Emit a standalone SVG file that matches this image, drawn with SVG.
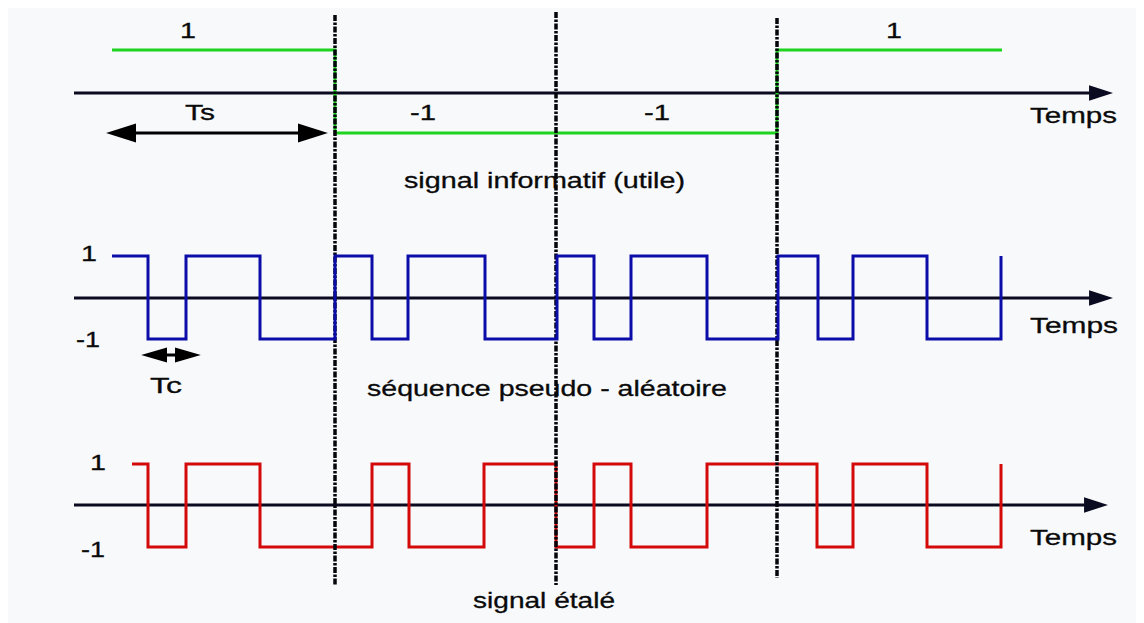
<svg xmlns="http://www.w3.org/2000/svg" width="1144" height="623" viewBox="0 0 1144 623">
  <style>
    .axis { stroke: #0a0a20; stroke-width: 3; fill: none; }
    .dash { stroke: #05050c; stroke-width: 3.5; fill: none; stroke-dasharray: 6 1.5 2.5 1.5; }
    .green { stroke: #1ed41e; stroke-width: 3; fill: none; }
    .blue { stroke: #0c0ca8; stroke-width: 3; fill: none; }
    .red { stroke: #d40a0a; stroke-width: 3; fill: none; }
    .dim { stroke: #000; stroke-width: 3; fill: none; }
    text { font-family: "Liberation Sans", Arial, sans-serif; font-size: 22px; fill: #0a0a0a; stroke: #0a0a0a; stroke-width: 0.3; }
  </style>
  <defs>
    <marker id="axhead" markerUnits="userSpaceOnUse" markerWidth="24" markerHeight="16" viewBox="0 0 22 14" refX="10" refY="7" orient="auto">
      <path d="M0,0 L22,7 L0,14 z" fill="#0a0a20"/>
    </marker>
    <marker id="tshead" markerUnits="userSpaceOnUse" markerWidth="30" markerHeight="20" viewBox="0 0 28 18" refX="15" refY="9" orient="auto-start-reverse">
      <path d="M0,0 L28,9 L0,18 z" fill="#000"/>
    </marker>
    <marker id="tchead" markerUnits="userSpaceOnUse" markerWidth="26" markerHeight="16" viewBox="0 0 24 14" refX="14" refY="7" orient="auto-start-reverse">
      <path d="M0,0 L24,7 L0,14 z" fill="#000"/>
    </marker>
  </defs>

  <rect x="0" y="0" width="1144" height="623" fill="#ffffff"/>
  <rect x="8" y="8" width="1128" height="615" fill="#f7f9fb"/>

  <g id="axes">
    <line class="axis" x1="74" y1="93" x2="1100" y2="93" marker-end="url(#axhead)"/>
    <line class="axis" x1="74" y1="298" x2="1100" y2="298" marker-end="url(#axhead)"/>
    <line class="axis" x1="74" y1="505" x2="1095" y2="505" marker-end="url(#axhead)"/>
  </g>

  <g id="signal-etale">
    <path class="red" d="M132,464 H148 V547 H186 V464 H260 V547 H372 V464 H409 V547 H484 V464 H556 V547 H594 V464 H631 V547 H707 V464 H817 V547 H853 V464 H927 V547 H1001 V464"/>
  </g>

  <g id="signal-informatif">
    <path class="green" d="M112,50 H335 V133 H777 V50 H1002"/>
  </g>

  <g id="symbol-boundaries">
    <line class="dash" x1="335" y1="15" x2="335" y2="585"/>
    <line class="dash" x1="556" y1="12" x2="556" y2="585"/>
    <line class="dash" x1="777" y1="18" x2="777" y2="578"/>
  </g>

  <g id="sequence-pn">
    <path class="blue" d="M112,256 H148 V339 H186 V256 H260 V339 H335 V256 H372 V339 H408 V256 H485 V339 H557 V256 H594 V339 H631 V256 H707 V339 H778 V256 H818 V339 H853 V256 H927 V339 H1001 V256"/>
  </g>

  <g id="durations">
    <line class="dim" x1="120" y1="133" x2="314" y2="133" marker-start="url(#tshead)" marker-end="url(#tshead)"/>
    <line class="dim" x1="152" y1="355" x2="190" y2="355" marker-start="url(#tchead)" marker-end="url(#tchead)"/>
  </g>

  <g id="labels">
    <text x="180" y="38" textLength="16" lengthAdjust="spacingAndGlyphs">1</text>
    <text x="886" y="38" textLength="16" lengthAdjust="spacingAndGlyphs">1</text>
    <text x="185" y="120" textLength="30" lengthAdjust="spacingAndGlyphs">Ts</text>
    <text x="410" y="120" textLength="26" lengthAdjust="spacingAndGlyphs">-1</text>
    <text x="644" y="120" textLength="26" lengthAdjust="spacingAndGlyphs">-1</text>
    <text x="1030" y="123" textLength="87" lengthAdjust="spacingAndGlyphs">Temps</text>
    <text x="404" y="188" textLength="281" lengthAdjust="spacingAndGlyphs">signal informatif (utile)</text>

    <text x="81" y="261" textLength="16" lengthAdjust="spacingAndGlyphs">1</text>
    <text x="76" y="347" textLength="24" lengthAdjust="spacingAndGlyphs">-1</text>
    <text x="1030" y="333" textLength="88" lengthAdjust="spacingAndGlyphs">Temps</text>
    <text x="150" y="393" textLength="32" lengthAdjust="spacingAndGlyphs">Tc</text>
    <text x="367" y="396" textLength="360" lengthAdjust="spacingAndGlyphs">séquence pseudo - aléatoire</text>

    <text x="90" y="470" textLength="16" lengthAdjust="spacingAndGlyphs">1</text>
    <text x="81" y="557" textLength="24" lengthAdjust="spacingAndGlyphs">-1</text>
    <text x="1030" y="545" textLength="87" lengthAdjust="spacingAndGlyphs">Temps</text>
    <text x="473" y="608" textLength="142" lengthAdjust="spacingAndGlyphs">signal étalé</text>
  </g>
</svg>
